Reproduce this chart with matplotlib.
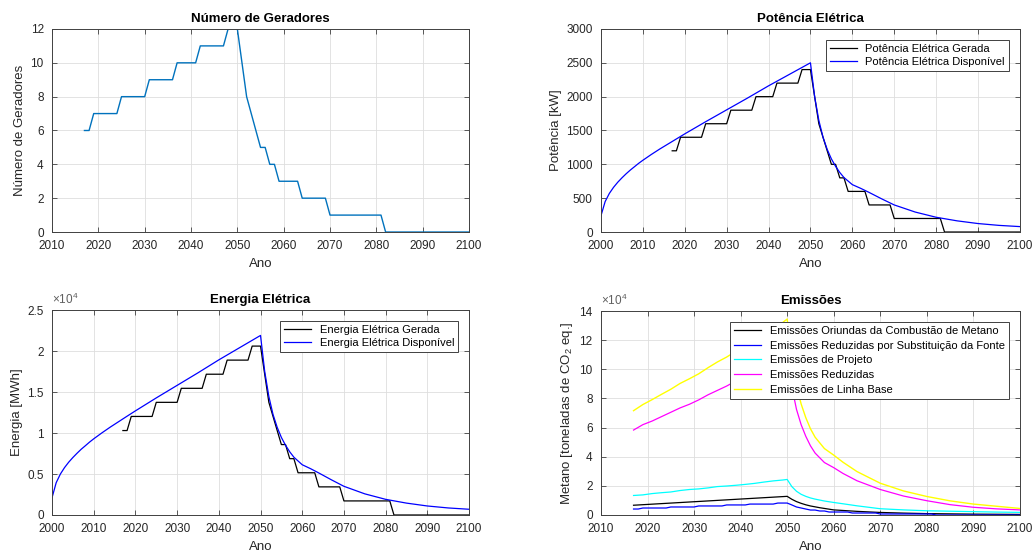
import numpy as np
import matplotlib
matplotlib.use("Agg")
import matplotlib.pyplot as plt

plt.rcParams["font.family"] = ["Liberation Sans", "DejaVu Sans"]
plt.rcParams["mathtext.default"] = "regular"

# ---- data ----
anos = np.arange(2017, 2101)   # yearly, 2017..2100

n_geradores = ([6] * 2 + [7] * 6 + [8] * 6 + [9] * 6 + [10] * 5 + [11] * 6 + [12] * 3
               + [10, 8, 7, 6, 5, 5, 4, 4] + [3] * 5 + [2] * 6 + [1] * 12 + [0] * 19)

pot_gerada = ([1200] * 2 + [1400] * 6 + [1600] * 6 + [1800] * 6 + [2000] * 5 + [2200] * 6
              + [2400] * 3 + [2000, 1600, 1400, 1200, 1000, 1000, 800, 800] + [600] * 5
              + [400] * 6 + [200] * 12 + [0] * 19)

en_gerada = ([10300] * 2 + [12020] * 6 + [13740] * 6 + [15450] * 6 + [17170] * 5
             + [18890] * 6 + [20600] * 3 + [17170, 13740, 12020, 10300, 8590, 8590, 6870, 6870]
             + [5150] * 5 + [3430] * 6 + [1717] * 12 + [0] * 19)

anos_disp = [2000, 2001, 2002, 2003, 2004, 2005, 2006, 2007, 2008, 2009, 2010, 2012, 2014,
             2016, 2018, 2020, 2025, 2030, 2035, 2040, 2045, 2050, 2051, 2052, 2053, 2054,
             2055, 2056, 2057, 2058, 2060, 2062, 2064, 2067, 2070, 2075, 2080, 2085, 2090,
             2095, 2100]
pot_disp = [240, 450, 570, 660, 735, 800, 860, 915, 965, 1015, 1060, 1145, 1225,
            1300, 1375, 1450, 1630, 1805, 1980, 2160, 2330, 2500, 2000, 1650, 1400, 1220,
            1080, 970, 880, 805, 700, 645, 585, 490, 400, 295, 218, 165, 125, 98, 80]
en_disp = [2100, 3940, 4990, 5780, 6440, 7010, 7530, 8020, 8450, 8890, 9290, 10030, 10730,
           11390, 12050, 12700, 14280, 15810, 17340, 18920, 20410, 21900, 17520, 14450, 12260,
           10690, 9460, 8500, 7710, 7050, 6130, 5650, 5120, 4290, 3500, 2580, 1910, 1450,
           1100, 860, 700]

# emissions
anos_comb = [2017, 2050, 2051, 2052, 2053, 2054, 2055, 2057, 2060, 2065, 2070, 2075, 2080,
             2090, 2100]
em_comb = [6700, 12800, 10800, 9200, 8000, 7000, 6200, 5000, 3500, 2500, 1750, 1300, 950,
           600, 400]

em_subst = ([4100] * 2 + [4800] * 6 + [5500] * 6 + [6200] * 6 + [6900] * 5 + [7500] * 6
            + [8200] * 3 + [6900, 5500, 4800, 4100, 3400, 3400, 2750, 2750] + [2050] * 5
            + [1370] * 6 + [690] * 12 + [0] * 19)

anos_em = [2017, 2019, 2021, 2023, 2025, 2027, 2029, 2031, 2033, 2035, 2037, 2039, 2041,
           2043, 2045, 2047, 2049, 2050, 2051, 2052, 2053, 2054, 2055, 2056, 2058, 2060,
           2062, 2065, 2070, 2075, 2080, 2085, 2090, 2095, 2100]
em_proj = [13400, 13800, 14700, 15300, 15800, 16800, 17500, 17900, 18600, 19500, 19900,
           20400, 21000, 21700, 22600, 23400, 24000, 24400, 19500, 16300, 14200, 12800,
           11700, 10900, 9600, 8600, 7700, 6300, 4300, 3500, 2900, 2600, 2300, 2000, 1800]
em_red = [58300, 62000, 64500, 67500, 70500, 73500, 76000, 79000, 82500, 85500, 88500,
          92000, 95000, 98500, 101500, 104500, 108000, 110000, 88000, 72500, 62000, 54000,
          47500, 42500, 36000, 32500, 28500, 23500, 17500, 13000, 9800, 7100, 5300, 4200, 3500]
em_base = [71600, 75800, 79200, 82800, 86300, 90300, 93500, 96900, 101100, 105000, 108400,
           112400, 116000, 120200, 124100, 127900, 132000, 134500, 107500, 88800, 76200,
           66800, 59200, 53400, 45600, 41100, 36200, 29800, 21800, 16500, 12700, 9700, 7500,
           6000, 4500]

# y tick labels (scaled by 10^4, as in the reference)
en_ticks = [0, 5000, 10000, 15000, 20000, 25000]
en_labels = ["0", "0.5", "1", "1.5", "2", "2.5"]
em_ticks = [0, 20000, 40000, 60000, 80000, 100000, 120000, 140000]
em_labels = ["0", "2", "4", "6", "8", "10", "12", "14"]

# ---- figure ----
TXT = "#262626"
fig = plt.figure(figsize=(10.34, 5.54), dpi=100)
ax1 = fig.add_axes([0.0503, 0.5812, 0.4033, 0.3665])
ax2 = fig.add_axes([0.5812, 0.5812, 0.4052, 0.3665])
ax3 = fig.add_axes([0.0503, 0.0704, 0.4033, 0.3700])
ax4 = fig.add_axes([0.5812, 0.0704, 0.4052, 0.3682])


def style(ax, title, ylabel, x0):
    ax.set_title(title, fontsize=9.5, fontweight="bold", pad=5)
    ax.set_xlabel("Ano", fontsize=9.5, color=TXT, labelpad=4)
    ax.set_ylabel(ylabel, fontsize=9.5, color=TXT, labelpad=3)
    ax.grid(True, color="#dedede", lw=0.6)
    ax.set_axisbelow(True)
    ax.tick_params(direction="in", top=True, right=True, length=3.5, width=0.6,
                   labelsize=8.5, colors="#404040", labelcolor=TXT)
    ax.tick_params(axis="x", pad=6)
    ax.tick_params(axis="y", pad=6)
    for s in ax.spines.values():
        s.set_color("#404040")
        s.set_linewidth(0.7)
    ax.set_xticks(range(x0, 2101, 10))
    ax.set_xlim(x0, 2100)


def leg(ax, sp=0.25):
    lg = ax.legend(loc="upper right", fontsize=8, fancybox=False, framealpha=1,
                   edgecolor="#404040", handlelength=2.4, borderaxespad=1.0,
                   labelspacing=sp, borderpad=0.35)
    lg.get_frame().set_linewidth(0.7)


def expoente(ax):
    ax.text(0.0, 1.015, r"$\times10^{4}$", transform=ax.transAxes, fontsize=8.5,
            color="#606060", ha="left", va="bottom")


# Número de Geradores
ax1.plot(anos, n_geradores, color="#0072BD", lw=1.0)
ax1.set_ylim(0, 12)
ax1.set_yticks(range(0, 13, 2))
style(ax1, "Número de Geradores", "Número de Geradores", 2010)

# Potência Elétrica
ax2.plot(anos, pot_gerada, color="k", lw=0.9, label="Potência Elétrica Gerada")
ax2.plot(anos_disp, pot_disp, color="#0000FF", lw=0.9, label="Potência Elétrica Disponível")
ax2.set_ylim(0, 3000)
ax2.set_yticks(range(0, 3001, 500))
style(ax2, "Potência Elétrica", "Potência [kW]", 2000)
leg(ax2)

# Energia Elétrica
ax3.plot(anos, en_gerada, color="k", lw=0.9, label="Energia Elétrica Gerada")
ax3.plot(anos_disp, en_disp, color="#0000FF", lw=0.9, label="Energia Elétrica Disponível")
ax3.set_ylim(0, 25000)
ax3.set_yticks(en_ticks, en_labels)
style(ax3, "Energia Elétrica", "Energia [MWh]", 2000)
expoente(ax3)
leg(ax3)

# Emissões
ax4.plot(anos_comb, em_comb, color="k", lw=0.9,
         label="Emissões Oriundas da Combustão de Metano")
ax4.plot(anos, em_subst, color="#0000FF", lw=0.9,
         label="Emissões Reduzidas por Substituição da Fonte")
ax4.plot(anos_em, em_proj, color="#00FFFF", lw=0.9, label="Emissões de Projeto")
ax4.plot(anos_em, em_red, color="#FF00FF", lw=0.9, label="Emissões Reduzidas")
ax4.plot(anos_em, em_base, color="#FFFF00", lw=1.0, label="Emissões de Linha Base")
ax4.set_ylim(0, 140000)
ax4.set_yticks(em_ticks, em_labels)
style(ax4, "Emissões", "Metano [toneladas de CO$_2$ eq.]", 2010)
expoente(ax4)
leg(ax4, sp=0.42)

fig.savefig("out.png", dpi=100)
